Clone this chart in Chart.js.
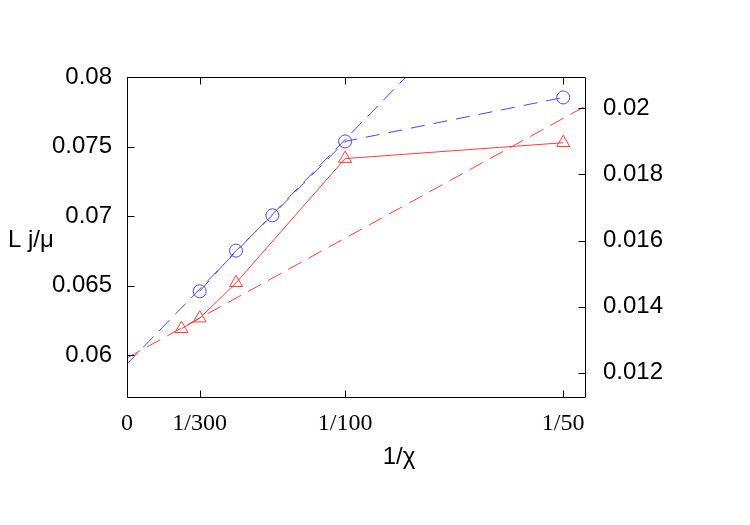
<!DOCTYPE html>
<html>
<head>
<meta charset="utf-8">
<script src="https://cdn.jsdelivr.net/npm/chart.js@4"></script>
<style>
  body { margin: 0; background: #fff; }
  canvas { display: block; }
</style>
</head>
<body>
<canvas id="ljChart" width="750" height="525"></canvas>
<script>
// circles (left axis) and triangles (right axis)
const blueX = [1/300, 1/200, 1/150, 1/100, 1/50];
const blueY = [0.0646, 0.06752, 0.07006, 0.07537, 0.07853];
const redX = [1/400, 1/300, 1/200, 1/100, 1/50];
const redY = [0.01333, 0.01365, 0.01472, 0.01848, 0.01896];

// linear extrapolations to 1/chi = 0
const blueFitX = [0, 0.0135];
const blueFitY = [0.05938, 0.08115];
const redFitX = [0, 0.021];
const redFitY = [0.012445, 0.02006];

const xTickVals = [0, 1/300, 1/100, 1/50];
const xTickLabels = ['0', '1/300', '1/100', '1/50'];
const yTickVals = [0.06, 0.065, 0.07, 0.075, 0.08];
const yTickLabels = ['0.06', '0.065', '0.07', '0.075', '0.08'];
const y2TickVals = [0.012, 0.014, 0.016, 0.018, 0.02];
const y2TickLabels = ['0.012', '0.014', '0.016', '0.018', '0.02'];

const blue = 'rgb(70,70,255)';
const red = 'rgb(255,60,60)';

function pts(xs, ys) {
    return xs.map((x, i) => ({x: x, y: ys[i]}));
}

// frame with inward ticks, like gnuplot
const framePlugin = {
    id: 'frame',
    afterDraw(chart) {
        const c = chart.ctx;
        const a = chart.chartArea;
        const sx = chart.scales.x, sy = chart.scales.y, sy2 = chart.scales.y2;
        const L = Math.round(a.left) + 0.5, R = Math.round(a.right) + 0.5;
        const T = Math.round(a.top) + 0.5, B = Math.round(a.bottom) + 0.5;
        const tl = 7;
        c.save();
        c.strokeStyle = '#000';
        c.lineWidth = 1;
        c.beginPath();
        c.rect(L, T, R - L, B - T);
        yTickVals.forEach(v => {
            const p = Math.round(sy.getPixelForValue(v)) + 0.5;
            c.moveTo(L, p); c.lineTo(L + tl, p);
        });
        y2TickVals.forEach(v => {
            const p = Math.round(sy2.getPixelForValue(v)) + 0.5;
            c.moveTo(R, p); c.lineTo(R - tl, p);
        });
        xTickVals.forEach(v => {
            const p = Math.round(sx.getPixelForValue(v)) + 0.5;
            c.moveTo(p, B); c.lineTo(p, B - tl);
            c.moveTo(p, T); c.lineTo(p, T + tl);
        });
        c.stroke();

        c.fillStyle = '#000';
        c.font = '24px "Liberation Sans"';
        c.textAlign = 'left';
        c.textBaseline = 'alphabetic';
        c.fillText('L j/\u03bc', 8, 247);
        c.font = '24px "Liberation Sans"';
        c.textAlign = 'center';
        c.fillText('1/\u03c7', 399, 464);
        c.restore();
    }
};

const ctx = document.getElementById('ljChart').getContext('2d');
const ljChart = new Chart(ctx, {
    type: 'scatter',
    data: {
        datasets: [
            {
                label: 'fit circles',
                data: pts(blueFitX, blueFitY),
                yAxisID: 'y',
                showLine: true,
                borderColor: blue,
                borderWidth: 1,
                borderDash: [15, 8],
                pointRadius: 0
            },
            {
                label: 'fit triangles',
                data: pts(redFitX, redFitY),
                yAxisID: 'y2',
                showLine: true,
                borderColor: red,
                borderWidth: 1,
                borderDash: [15, 8],
                pointRadius: 0
            },
            {
                label: 'circles',
                data: pts(blueX, blueY),
                yAxisID: 'y',
                showLine: true,
                borderColor: blue,
                borderWidth: 1,
                borderDash: [14, 9],
                pointStyle: 'circle',
                pointRadius: 6.5,
                pointBorderColor: blue,
                pointBackgroundColor: 'rgba(0,0,0,0)',
                pointBorderWidth: 1
            },
            {
                label: 'triangles',
                data: pts(redX, redY),
                yAxisID: 'y2',
                showLine: true,
                borderColor: red,
                borderWidth: 1,
                pointStyle: 'triangle',
                pointRadius: 7.5,
                pointBorderColor: red,
                pointBackgroundColor: 'rgba(0,0,0,0)',
                pointBorderWidth: 1
            }
        ]
    },
    options: {
        responsive: false,
        animation: false,
        events: [],
        layout: {
            padding: {top: 77, left: 0, right: 0, bottom: 0}
        },
        plugins: {
            legend: {display: false},
            tooltip: {enabled: false}
        },
        scales: {
            x: {
                type: 'linear',
                position: 'bottom',
                min: 0,
                max: 0.021,
                grid: {display: false, drawTicks: false},
                border: {display: false},
                afterBuildTicks: s => { s.ticks = xTickVals.map(v => ({value: v})); },
                afterFit: s => { s.height = 128; },
                ticks: {
                    autoSkip: false,
                    maxRotation: 0,
                    padding: 12,
                    color: '#000',
                    font: {family: '"Liberation Serif"', size: 24},
                    callback: (v, i) => xTickLabels[i]
                }
            },
            y: {
                type: 'linear',
                position: 'left',
                min: 0.057,
                max: 0.08,
                grid: {display: false, drawTicks: false},
                border: {display: false},
                afterBuildTicks: s => { s.ticks = yTickVals.map(v => ({value: v})); },
                afterFit: s => { s.width = 127; },
                ticks: {
                    padding: 15,
                    color: '#000',
                    font: {family: '"Liberation Sans"', size: 24},
                    callback: (v, i) => yTickLabels[i]
                }
            },
            y2: {
                type: 'linear',
                position: 'right',
                min: 0.011264,
                max: 0.02095,
                grid: {display: false, drawTicks: false},
                border: {display: false},
                afterBuildTicks: s => { s.ticks = y2TickVals.map(v => ({value: v})); },
                afterFit: s => { s.width = 165; },
                ticks: {
                    padding: 18,
                    color: '#000',
                    font: {family: '"Liberation Sans"', size: 24},
                    callback: (v, i) => y2TickLabels[i]
                }
            }
        }
    },
    plugins: [framePlugin]
});
</script>
</body>
</html>
